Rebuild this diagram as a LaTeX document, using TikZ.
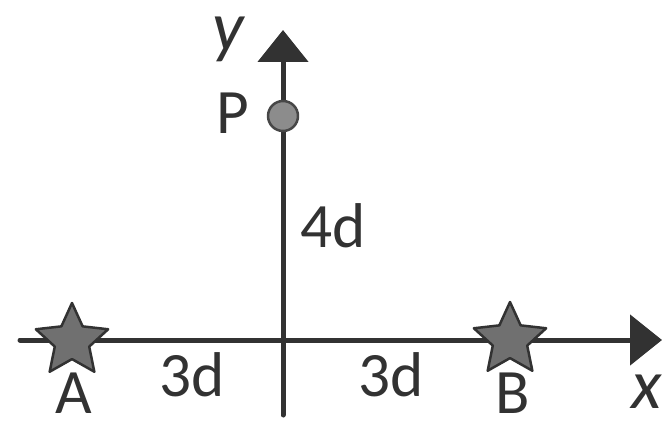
\documentclass[tikz,border=0pt]{standalone}
\usepackage{fontspec}
\setmainfont{Carlito}
\usetikzlibrary{arrows.meta,positioning,shapes.geometric}
\definecolor{axisGray}{RGB}{50, 50, 50}
\definecolor{starGray}{RGB}{112, 112, 112}
\definecolor{dotGray}{RGB}{140, 140, 140}

\tikzset{
  axisline/.style={axisGray, line width=0.1cm, -{Triangle[length=0.64cm, width=1.0cm]}},
  charge/.style={star, star points=5, star point ratio=2.1, minimum size=1.52cm,
    inner sep=0pt, fill=starGray, draw=axisGray, line width=0.05cm},
  pointdot/.style={circle, minimum size=0.6cm, inner sep=0pt, fill=dotGray,
    draw=axisGray!90, line width=0.05cm},
  lbl/.style={inner sep=0pt, text=axisGray, font=\fontsize{36}{40}\selectfont},
  axlbl/.style={inner sep=0pt, text=axisGray, font=\fontsize{40}{44}\selectfont\itshape}
}

\begin{document}
\begin{tikzpicture}[x=0.02cm, y=0.02cm, line cap=round, line join=round]
    \useasboundingbox (0,0) rectangle (671,429);
    % axes
    \coordinate (xl) at (20,89);
    \coordinate (xr) at (662,89);
    \coordinate (yb) at (283,14);
    \coordinate (yt) at (283,399);
    \draw[axisline] (xl) -- (xr);
    \draw[axisline] (yb) -- (yt);
    % charges and point
    \node[charge] (A) at (72,88) {};
    \node[charge] (B) at (510,89) {};
    \node[pointdot] (P) at (283,313) {};
    % labels
    \node[axlbl] (ylab) at (228,390) {y};
    \node[axlbl] (xlab) at (647,37) {x};
    \node[lbl] (Plab) at (233,316) {P};
    \node[lbl] (Alab) at (74,36) {A};
    \node[lbl] (Blab) at (513,36) {B};
    \node[lbl] (dy) at (333,203) {4d};
    \node[lbl] (dl) at (192,54) {3d};
    \node[lbl] (dr) at (391,54) {3d};
\end{tikzpicture}
\end{document}
